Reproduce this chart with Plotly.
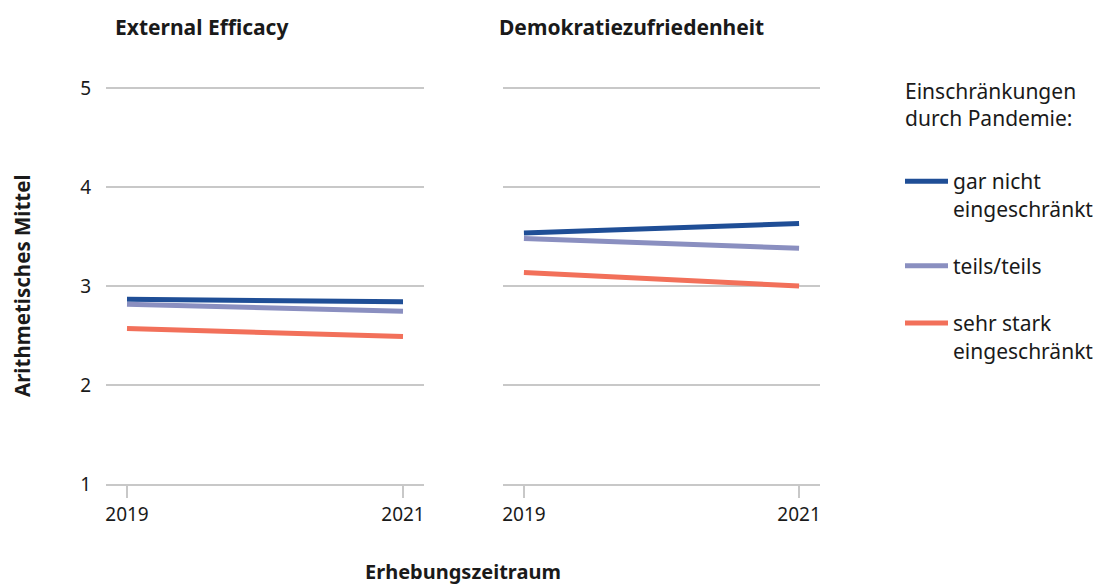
import plotly.graph_objects as go

# Survey waves
years = [2019, 2021]

# Means for "External Efficacy"
eff_gar_nicht = [2.865, 2.84]
eff_teils = [2.815, 2.745]
eff_sehr_stark = [2.57, 2.49]

# Means for "Demokratiezufriedenheit"
dem_gar_nicht = [3.535, 3.63]
dem_teils = [3.48, 3.38]
dem_sehr_stark = [3.135, 3.0]

group_names = ["gar nicht<br>eingeschränkt", "teils/teils", "sehr stark<br>eingeschränkt"]
colors = ["#1f4e96", "#8a8fc0", "#f2705a"]

FONT = "Noto Sans"
TXT = "#1a1a1a"
GRID = "#c8c8c8"

fig = go.Figure()

left = [eff_gar_nicht, eff_teils, eff_sehr_stark]
right = [dem_gar_nicht, dem_teils, dem_sehr_stark]

for i, (name, col) in enumerate(zip(group_names, colors)):
    fig.add_trace(go.Scatter(
        x=years, y=left[i], mode="lines", name=name,
        line=dict(color=col, width=5), xaxis="x", yaxis="y",
        legendgroup=f"g{i}", showlegend=True, hoverinfo="skip"))
    fig.add_trace(go.Scatter(
        x=years, y=right[i], mode="lines", name=name,
        line=dict(color=col, width=5), xaxis="x2", yaxis="y2",
        legendgroup=f"g{i}", showlegend=False, hoverinfo="skip"))

L, R, T, B = 106, 281, 78, 101
W, H = 1101, 585
pw = W - L - R
ph = H - T - B

def px_x(p):
    return (p - L) / pw

def px_y(p):
    return (H - B - p) / ph

xr = [2019 - 21 / 138, 2021 + 21 / 138]
yr = [1, 5.1]

xcommon = dict(range=xr, tickvals=years, ticktext=["2019", "2021"],
               showgrid=False, zeroline=False, showline=True,
               linecolor=GRID, linewidth=2, ticks="outside", ticklen=12,
               tickwidth=2, tickcolor=GRID,
               tickfont=dict(family=FONT, size=19, color=TXT), fixedrange=True)
ycommon = dict(range=yr, tickvals=[1, 2, 3, 4, 5], showgrid=True,
               gridcolor=GRID, gridwidth=2, zeroline=False, showline=False,
               ticks="", tickfont=dict(family=FONT, size=19, color=TXT),
               fixedrange=True)

fig.update_layout(
    width=W, height=H,
    margin=dict(l=L, r=R, t=T, b=B),
    paper_bgcolor="white", plot_bgcolor="white",
    font=dict(family=FONT, color=TXT),
    xaxis=dict(domain=[0, px_x(424)], anchor="y", **xcommon),
    xaxis2=dict(domain=[px_x(503), 1], anchor="y2", **xcommon),
    yaxis=dict(domain=[0, 1], anchor="x", ticklabelstandoff=14, **ycommon),
    yaxis2=dict(domain=[0, 1], anchor="x2", showticklabels=False, **ycommon),
    legend=dict(
        xref="container", yref="container",
        x=900 / W, y=1 - 161 / H, xanchor="left", yanchor="top",
        font=dict(family=FONT, size=21, color=TXT),
        itemwidth=43, tracegroupgap=27, valign="top",
        bgcolor="rgba(0,0,0,0)"),
    annotations=[
        dict(text="<b>External Efficacy</b>", xref="paper", yref="paper",
             x=px_x(113), y=px_y(27), xanchor="left", yanchor="middle",
             showarrow=False, font=dict(family=FONT, size=21, color=TXT)),
        dict(text="<b>Demokratiezufriedenheit</b>", xref="paper", yref="paper",
             x=px_x(497), y=px_y(27), xanchor="left", yanchor="middle",
             showarrow=False, font=dict(family=FONT, size=21, color=TXT)),
        dict(text="<b>Erhebungszeitraum</b>", xref="paper", yref="paper",
             x=px_x(463), y=px_y(571), xanchor="center", yanchor="middle",
             showarrow=False, font=dict(family=FONT, size=20, color=TXT)),
        dict(text="<b>Arithmetisches Mittel</b>", xref="paper", yref="paper",
             x=px_x(22), y=px_y(286), xanchor="center", yanchor="middle",
             textangle=-90, showarrow=False,
             font=dict(family=FONT, size=20.5, color=TXT)),
        dict(text="Einschränkungen<br>durch Pandemie:", xref="paper", yref="paper",
             x=px_x(903), y=px_y(105), xanchor="left", yanchor="middle",
             align="left", showarrow=False,
             font=dict(family=FONT, size=21, color=TXT)),
    ],
)

fig.write_html("out.html")
